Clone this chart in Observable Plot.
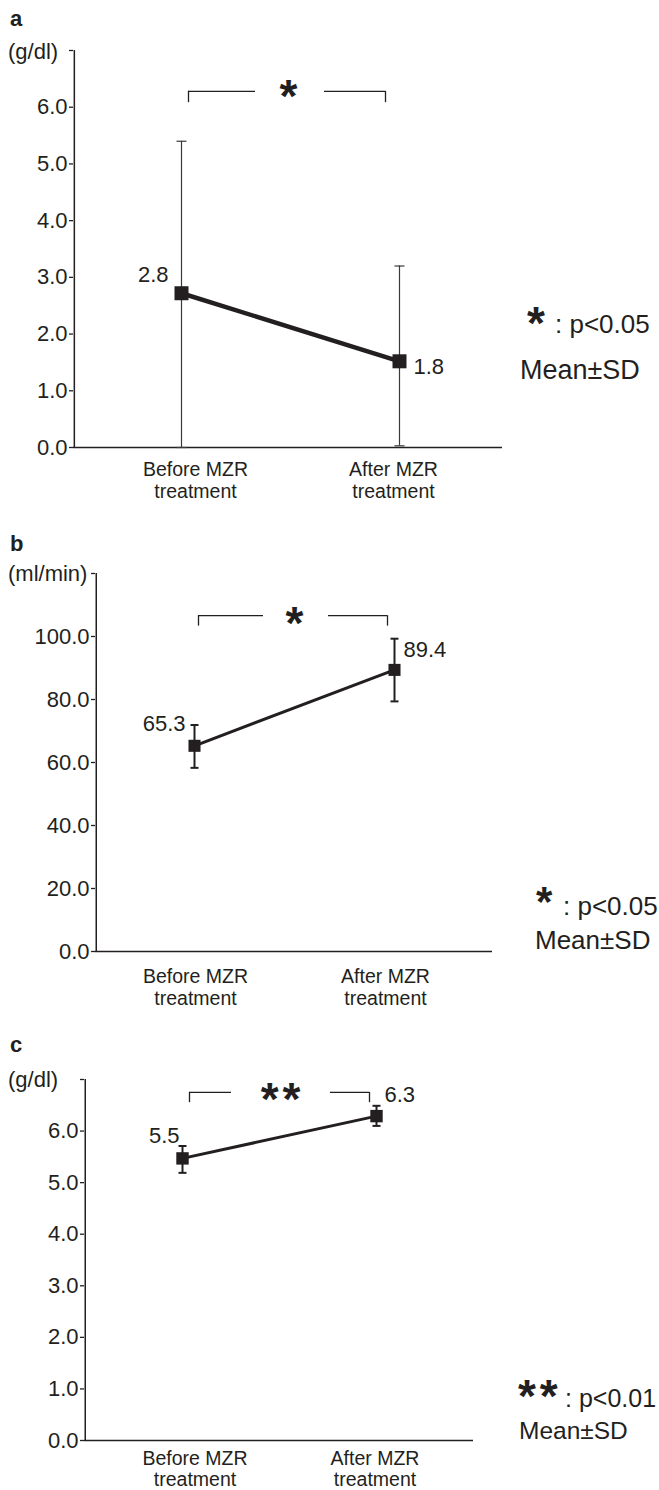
<!DOCTYPE html>
<html>
<head>
<meta charset="utf-8">
<script src="https://cdn.jsdelivr.net/npm/d3@7"></script>
<script src="https://cdn.jsdelivr.net/npm/@observablehq/plot@0.6"></script>
<style>
  body { margin: 0; background: #fff; }
  #root { position: relative; width: 659px; height: 1490px; overflow: hidden;
          font-family: "Liberation Sans", Arial, Helvetica, sans-serif; color: #231f20; }
  .t { position: absolute; white-space: nowrap; }
  .b { font-weight: bold; }
  #root svg { position: absolute; left: 0; }
</style>
</head>
<body>
<div id="root"></div>
<script>
// ---------- data ----------
const categories = ["Before MZR treatment", "After MZR treatment"];
const categoryLabels = ["Before MZR\ntreatment", "After MZR\ntreatment"];

// panel a (g/dl)
const aMeans = [2.72, 1.52];
const aMeanLabels = ["2.8", "1.8"];
const aLow = [0.0, 0.03];
const aHigh = [5.4, 3.2];
const aTicks = [0, 1, 2, 3, 4, 5, 6, 7];

// panel b (ml/min)
const bMeans = [65.3, 89.4];
const bMeanLabels = ["65.3", "89.4"];
const bLow = [58.3, 79.4];
const bHigh = [71.9, 99.3];
const bTicks = [0, 20, 40, 60, 80, 100, 120];

// panel c (g/dl)
const cMeans = [5.47, 6.29];
const cMeanLabels = ["5.5", "6.3"];
const cLow = [5.19, 6.1];
const cHigh = [5.71, 6.49];
const cTicks = [0, 1, 2, 3, 4, 5, 6, 7];

// significance brackets (data units)
const aBracket = {top: 6.28, bottom: 6.08, mark: "*"};
const bBracket = {top: 106.6, bottom: 103.3, mark: "*"};
const cBracket = {top: 6.75, bottom: 6.55, mark: "*\u200A*"};

const ink = "#231f20";

// horizontal cap symbol for error bars (half-width = r)
const capSymbol = {
  draw(ctx, size) {
    const r = Math.sqrt(size / Math.PI);
    ctx.moveTo(-r, 0);
    ctx.lineTo(r, 0);
  }
};

function panel(p) {
  const rows = categories.map((c, i) => ({
    cat: c, label: categoryLabels[i], mean: p.means[i], text: p.meanLabels[i],
    low: p.low[i], high: p.high[i]
  }));
  const top = p.ticks[p.ticks.length - 1];
  const br = p.bracket;
  const brRow = [{x1: categories[0], x2: categories[1], y: br.top, y1: br.bottom, cat0: categories[0], cat1: categories[1], mark: br.mark}];
  // where the first category falls, to draw the y axis line at the frame's left edge
  const xs = d3.scalePoint().domain(categories).range([p.ml, 659 - p.mr]).padding(p.padding).align(p.align);
  const axisRow = [{cat: categories[0], y1: 0, y2: top}];
  const marks = [
    Plot.axisY({ticks: p.ticks, tickFormat: d => d === top ? "" : d.toFixed(1),
      tickSize: 4, tickPadding: 2, fontSize: 22, strokeWidth: 1.3, label: null}),
    Plot.ruleX(axisRow, {x: "cat", y1: "y1", y2: "y2", dx: p.ml - xs(categories[0]), stroke: ink, strokeWidth: 1.5}),
    Plot.ruleY([0], {stroke: ink, strokeWidth: 1.5}),
    // error bars
    Plot.ruleX(rows, {x: "cat", y1: "low", y2: "high", stroke: p.errColor, strokeWidth: p.errWidth}),
    Plot.dot(rows, {x: "cat", y: "low", symbol: capSymbol, r: p.cap, fill: "none", stroke: p.errColor, strokeWidth: p.errWidth}),
    Plot.dot(rows, {x: "cat", y: "high", symbol: capSymbol, r: p.cap, fill: "none", stroke: p.errColor, strokeWidth: p.errWidth}),
    // mean line and markers
    Plot.line(rows, {x: "cat", y: "mean", stroke: ink, strokeWidth: p.lineWidth}),
    Plot.dot(rows, {x: "cat", y: "mean", symbol: "square", r: p.r, fill: ink, stroke: null}),
    // bracket
    Plot.ruleY(brRow, {x1: "x1", x2: "x2", y: "y", stroke: ink, strokeWidth: 1.3, insetLeft: p.br.l1, insetRight: p.br.r1}),
    Plot.ruleY(brRow, {x1: "x1", x2: "x2", y: "y", stroke: ink, strokeWidth: 1.3, insetLeft: p.br.l2, insetRight: p.br.r2}),
    Plot.ruleX(brRow, {x: "cat0", y1: "y1", y2: "y", stroke: ink, strokeWidth: 1.3, dx: p.br.dx0}),
    Plot.ruleX(brRow, {x: "cat1", y1: "y1", y2: "y", stroke: ink, strokeWidth: 1.3, dx: p.br.dx1}),
    Plot.text(brRow, {x: "cat0", y: "y", text: "mark", dx: p.br.sx, dy: p.br.sy, fontSize: 46, fontWeight: "bold", fill: ink})
  ];
  p.valuePos.forEach((o, i) => marks.push(
    Plot.text([rows[i]], {x: "cat", y: "mean", text: "text", textAnchor: o.anchor, dx: o.dx, dy: o.dy, fontSize: 22, fill: ink})
  ));
  p.labelDx.forEach((dx, i) => marks.push(
    Plot.text([rows[i]], {x: "cat", text: "label", frameAnchor: "bottom", lineAnchor: "top", dx, dy: p.labelDy, fontSize: 19.5, lineHeight: p.labelLh, fill: ink})
  ));
  const svg = Plot.plot({
    width: 659, height: p.height,
    marginTop: p.mt, marginBottom: p.mb, marginLeft: p.ml, marginRight: p.mr,
    style: {fontFamily: '"Liberation Sans", Arial, sans-serif', color: ink, background: "transparent", overflow: "visible"},
    x: {type: "point", domain: categories, padding: p.padding, align: p.align, axis: null},
    y: {domain: [0, top], axis: null},
    marks
  });
  svg.style.top = p.top + "px";
  return svg;
}

const root = document.getElementById("root");

root.appendChild(panel({
  top: 0, height: 500, mt: 50, mb: 53, ml: 73, mr: 157, padding: 0.48, align: 0.51,
  ticks: aTicks, means: aMeans, meanLabels: aMeanLabels, low: aLow, high: aHigh,
  errColor: "#3a3a3a", errWidth: 1.2, cap: 5, lineWidth: 4.5, r: 7.9,
  bracket: aBracket,
  br: {l1: 7, r1: 144, l2: 143, r2: 14, dx0: 7, dx1: -14, sx: 107, sy: 6},
  valuePos: [{anchor: "end", dx: -13, dy: -18}, {anchor: "start", dx: 14, dy: 6}],
  labelDx: [14, -6], labelDy: 13, labelLh: 1.12
}));

root.appendChild(panel({
  top: 500, height: 500, mt: 73, mb: 49, ml: 95, mr: 167, padding: 0.49, align: 0.5,
  ticks: bTicks, means: bMeans, meanLabels: bMeanLabels, low: bLow, high: bHigh,
  errColor: ink, errWidth: 2, cap: 4, lineWidth: 3, r: 6.8,
  bracket: bBracket,
  br: {l1: 4, r1: 131, l2: 134, r2: 7, dx0: 4, dx1: -7, sx: 100, sy: 8.5},
  valuePos: [{anchor: "end", dx: -9, dy: -22}, {anchor: "start", dx: 9, dy: -20}],
  labelDx: [1, -9], labelDy: 16, labelLh: 1.12
}));

root.appendChild(panel({
  top: 1000, height: 490, mt: 79, mb: 50, ml: 84, mr: 186, padding: 0.5, align: 0.5,
  ticks: cTicks, means: cMeans, meanLabels: cMeanLabels, low: cLow, high: cHigh,
  errColor: ink, errWidth: 2, cap: 4, lineWidth: 3, r: 7,
  bracket: cBracket,
  br: {l1: 7, r1: 145, l2: 148, r2: 7, dx0: 7, dx1: -7, sx: 98, sy: 8},
  valuePos: [{anchor: "end", dx: -3, dy: -22}, {anchor: "start", dx: 8, dy: -21.5}],
  labelDx: [12.5, -1.5], labelDy: 9, labelLh: 1.1
}));

// ---------- panel letters, units, legends ----------
// lh: line-height as a fraction of font size; baseline = top + ((lh - 1.117) / 2 + 0.905) * f
const texts = [
  {s: "a", x: 10, base: 27, f: 22, bold: true},
  {s: "(g/dl)", x: 8, base: 60, f: 22},
  {s: "b", x: 10, base: 552, f: 22, bold: true},
  {s: "(ml/min)", x: 8, base: 582, f: 22},
  {s: "c", x: 10, base: 1053, f: 22, bold: true},
  {s: "(g/dl)", x: 8, base: 1087.5, f: 22},
  // legend a
  {s: "*", x: 527, base: 339.5, f: 46, bold: true, lh: 0.4},
  {s: ": p<0.05", x: 555, base: 333, f: 26},
  {s: "Mean±SD", x: 520, base: 380, f: 27},
  // legend b
  {s: "*", x: 536, base: 917, f: 42, bold: true, lh: 0.4},
  {s: ": p<0.05", x: 563, base: 915, f: 26},
  {s: "Mean±SD", x: 535, base: 949, f: 26},
  // legend c
  {s: "*\u200A*", x: 518, base: 1412.5, f: 46, bold: true, lh: 0.4},
  {s: ": p<0.01", x: 565, base: 1407, f: 25},
  {s: "Mean±SD", x: 519, base: 1440, f: 24.5}
];
texts.forEach(t => {
  const lh = t.lh || 1;
  const d = document.createElement("div");
  d.className = "t" + (t.bold ? " b" : "");
  d.textContent = t.s;
  d.style.left = t.x + "px";
  d.style.fontSize = t.f + "px";
  d.style.lineHeight = lh;
  d.style.top = (t.base - ((lh - 1.117) / 2 + 0.905) * t.f) + "px";
  root.appendChild(d);
});
</script>
</body>
</html>
